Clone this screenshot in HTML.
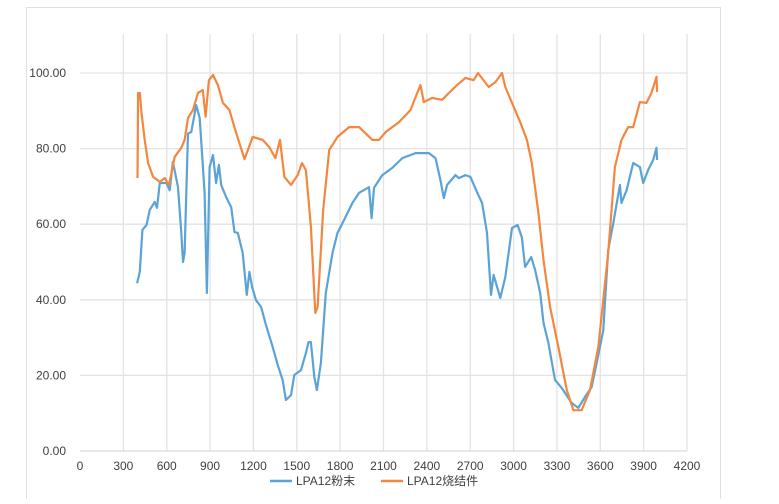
<!DOCTYPE html>
<html><head><meta charset="utf-8"><style>
body{margin:0;background:#fff;}
svg text{font-family:"Liberation Sans","Noto Sans CJK SC",sans-serif;font-size:12px;fill:#404040;}
</style></head><body>
<svg id="chart" width="779" height="499" xmlns="http://www.w3.org/2000/svg">
<rect x="26.5" y="7.5" width="694" height="510" fill="none" stroke="#e0e0e0" stroke-width="1"/>
<g id="grid"></g>
<g id="axes"></g>
<g id="series"></g>
<g>
<line x1="270" y1="481" x2="292" y2="481" stroke="#5BA3D6" stroke-width="2.5"/>
<text x="296" y="485">LPA12粉末</text>
<line x1="381" y1="481" x2="403" y2="481" stroke="#F4873F" stroke-width="2.5"/>
<text x="407" y="485">LPA12烧结件</text>
</g>
</svg>
<script>
const xTicks=[0,300,600,900,1200,1500,1800,2100,2400,2700,3000,3300,3600,3900,4200];
const yTicks=[0,20,40,60,80,100];
const powderX=[395,414,432,460,483,517,533,552,598,621,643,678,701,713,724,747,770,804,828,862,878,897,920,942,961,977,1011,1046,1069,1092,1126,1154,1172,1191,1218,1253,1287,1333,1368,1402,1425,1460,1483,1529,1563,1581,1598,1621,1639,1667,1701,1747,1782,1816,1885,1931,2000,2018,2034,2092,2161,2230,2322,2414,2460,2494,2517,2540,2598,2621,2667,2701,2747,2782,2816,2844,2862,2908,2943,2989,3028,3057,3080,3122,3149,3184,3207,3241,3287,3333,3402,3448,3494,3540,3575,3621,3655,3690,3736,3747,3782,3828,3874,3897,3931,3966,3989,3993];
const powderY=[44.4,47.4,58.5,59.8,63.8,65.9,64.3,70.9,70.9,69,76.5,69.8,57.7,50,52.4,84,84.4,91.5,88.1,68.3,41.8,75.1,78.3,70.9,75.7,70.4,67.2,64.5,57.9,57.7,52.4,41.3,47.4,43.4,39.9,38.1,33.3,27.5,22.8,18.8,13.5,14.8,20.1,21.4,25.9,28.8,28.8,19.6,16.1,23.3,41.8,52.4,57.7,60.3,65.6,68.3,69.8,61.6,69.6,73,74.9,77.5,78.8,78.8,77.5,71.7,66.9,70.4,73,72.2,73,72.5,68.5,65.6,57.7,41.3,46.6,40.5,46,59,59.8,56.6,48.7,51.3,47.9,41.8,33.9,28.6,18.8,16.7,12.7,11.4,14.3,16.9,23.3,32,53.2,60.3,70.4,65.6,69,76.2,75.1,70.9,74.3,77,80.2,77];
const sinterX=[398,402,414,425,448,471,506,552,586,616,655,701,724,747,782,816,850,869,892,920,954,989,1034,1081,1138,1195,1264,1310,1352,1384,1414,1460,1506,1536,1563,1598,1628,1644,1683,1724,1782,1862,1931,2023,2069,2115,2207,2287,2333,2356,2379,2437,2506,2552,2609,2667,2724,2754,2828,2874,2920,2943,2989,3046,3092,3126,3172,3207,3253,3310,3368,3414,3471,3529,3586,3655,3701,3747,3793,3828,3874,3920,3954,3989,3993];
const sinterY=[72.2,94.7,94.7,89.7,82.3,76.2,72.5,71.2,72.2,70.4,77.8,80.2,82.3,88.1,90.2,94.7,95.5,88.4,98.1,99.5,96.8,92.1,90.2,84.1,77.2,83.1,82.3,80.4,77.5,82.3,72.5,70.4,73,76.2,74.3,59.3,36.5,38.1,63.8,79.6,83.1,85.7,85.7,82.3,82.3,84.4,87,90.2,94.7,96.8,92.3,93.4,92.9,94.7,96.8,98.7,98.1,100,96.3,97.6,100,96.3,92.1,87,82.3,76.2,63,50.5,38.1,27.5,16.1,10.8,10.8,16.1,27.5,52.4,75.1,82.3,85.7,85.7,92.3,92.1,94.7,99,95];
const X0=80,X1=687,Y0=451,Y1=73;
const sx=v=>X0+(v/4200)*(X1-X0);
const sy=v=>Y0-(v/100)*(Y0-Y1);
const NS="http://www.w3.org/2000/svg";
function mk(tag,attrs,parent){const e=document.createElementNS(NS,tag);for(const k in attrs)e.setAttribute(k,attrs[k]);parent.appendChild(e);return e;}
const grid=document.getElementById('grid'),axes=document.getElementById('axes'),series=document.getElementById('series');
yTicks.forEach(t=>{
 if(t>0){const l=mk('line',{x1:X0,x2:X1,y1:sy(t),y2:sy(t),stroke:'#e3e3e3','stroke-width':1.3},grid);
 
 }
 const tx=mk('text',{x:66,y:sy(t)+4,'text-anchor':'end'},axes);tx.textContent=t.toFixed(2);
 
 
});
xTicks.forEach(t=>{
 if(t>0){const l=mk('line',{x1:sx(t),x2:sx(t),y1:34,y2:Y0,stroke:'#e3e3e3','stroke-width':1.3},grid);
 
 }
 const tx=mk('text',{x:sx(t),y:470,'text-anchor':'middle'},axes);tx.textContent=t;
 
 
});
const ax=mk('line',{x1:X0,x2:X1,y1:Y0,y2:Y0,stroke:'#d0d0d0','stroke-width':1},axes);


function path(xs,ys,col,name){
 const d=xs.map((x,i)=>(i?'L':'M')+sx(x).toFixed(1)+' '+sy(ys[i]).toFixed(1)).join(' ');
 const p=mk('path',{d:d,fill:'none',stroke:col,'stroke-width':2.2,'stroke-linejoin':'round'},series);
 
 
}
path(powderX,powderY,'#5BA3D6','line-lpa12-powder');
path(sinterX,sinterY,'#F4873F','line-lpa12-sintered');
</script>
</body></html>
